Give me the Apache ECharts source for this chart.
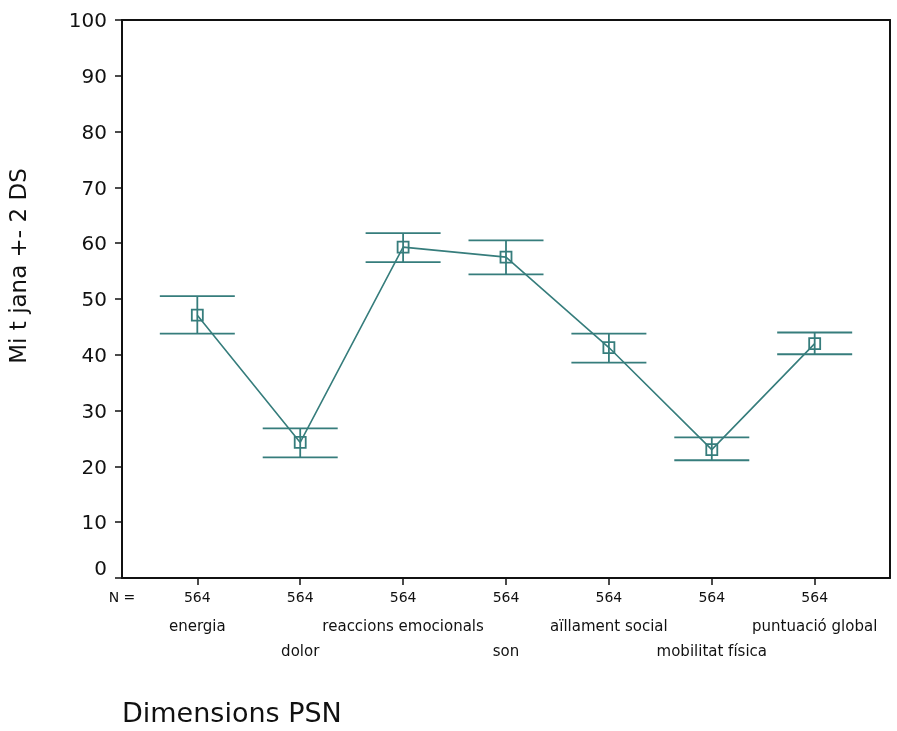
<!DOCTYPE html>
<html>
<head>
<meta charset="utf-8">
<script src="https://cdn.jsdelivr.net/npm/echarts@6/dist/echarts.min.js"></script>
<style>
  html, body { margin: 0; padding: 0; background: #fff; }
  #main { width: 897px; height: 731px; }
</style>
</head>
<body>
<div id="main"></div>
<script>
var categories = ['energia', 'dolor', 'reaccions emocionals', 'son', 'aïllament social', 'mobilitat física', 'puntuació global'];
var counts = [564, 564, 564, 564, 564, 564, 564];
var means = [47.1, 24.3, 59.3, 57.5, 41.3, 23.0, 42.0];
var upper = [50.5, 26.8, 61.8, 60.5, 43.8, 25.2, 44.0];
var lower = [43.8, 21.6, 56.6, 54.4, 38.6, 21.1, 40.1];
var yTicks = [0, 10, 20, 30, 40, 50, 60, 70, 80, 90, 100];

var teal = '#367d7c';
var ink = '#111';
var font = 'DejaVu Sans';

var idx = categories.map(function (c, i) { return i; });
var evenIdx = idx.filter(function (i) { return i % 2 === 0; });
var oddIdx = idx.filter(function (i) { return i % 2 === 1; });
var xMin = -0.732, xMax = 6.732;

var myChart = echarts.init(document.getElementById('main'));

function baseX(extra) {
  var a = {
    type: 'value', min: xMin, max: xMax, position: 'bottom',
    axisLine: { show: false }, axisTick: { show: false },
    axisLabel: { show: false }, splitLine: { show: false }
  };
  for (var k in extra) a[k] = extra[k];
  return a;
}

var option = {
  animation: false,
  grid: { left: 122, right: 7, top: 20, bottom: 153 },
  xAxis: [
    baseX({
      axisLine: { show: true, onZero: false, lineStyle: { color: ink, width: 2 } },
      axisTick: { show: true, customValues: idx, length: 7, lineStyle: { color: ink, width: 1.5 } },
      axisLabel: {
        show: true, customValues: [xMin].concat(idx), margin: 13,
        fontFamily: font, fontSize: 14, color: ink,
        formatter: function (v) { return v < 0 ? 'N =' : String(counts[Math.round(v)]); }
      }
    }),
    baseX({
      axisLabel: {
        show: true, customValues: evenIdx, margin: 42,
        fontFamily: font, fontSize: 15, color: ink,
        formatter: function (v) { return categories[Math.round(v)]; }
      }
    }),
    baseX({
      axisLabel: {
        show: true, customValues: oddIdx, margin: 67,
        fontFamily: font, fontSize: 15, color: ink,
        formatter: function (v) { return categories[Math.round(v)]; }
      }
    }),
    baseX({
      position: 'top',
      axisLine: { show: true, onZero: false, lineStyle: { color: ink, width: 2 } }
    })
  ],
  yAxis: [
    {
      type: 'value', min: 0, max: 100, interval: 10,
      axisLine: { show: true, onZero: false, lineStyle: { color: ink, width: 2 } },
      axisTick: { show: true, length: 7, lineStyle: { color: ink, width: 1.5 } },
      axisLabel: {
        margin: 15, fontFamily: font, fontSize: 20, color: ink,
        padding: [4, 0, 0, 0],
        formatter: function (v) {
          if (yTicks.indexOf(v) < 0) return '';
          return v === 0 ? '{z|0}' : String(v);
        },
        rich: { z: { fontFamily: font, fontSize: 20, color: ink, padding: [0, 0, 20, 0] } }
      },
      splitLine: { show: false }
    },
    {
      type: 'value', min: 0, max: 100, position: 'right',
      axisLine: { show: true, onZero: false, lineStyle: { color: ink, width: 2 } },
      axisTick: { show: false }, axisLabel: { show: false }, splitLine: { show: false }
    }
  ],
  graphic: [
    {
      type: 'text', x: 20, y: 266, rotation: Math.PI / 2,
      style: {
        text: 'Mi t jana +- 2 DS', fontFamily: font, fontSize: 23, fill: ink,
        align: 'center', verticalAlign: 'middle'
      }
    },
    {
      type: 'text', x: 122, y: 715,
      style: {
        text: 'Dimensions PSN', fontFamily: font, fontSize: 27, fill: ink,
        align: 'left', verticalAlign: 'middle'
      }
    }
  ],
  series: [
    {
      type: 'custom',
      xAxisIndex: 0, yAxisIndex: 0,
      encode: { x: 0, y: [1, 2] },
      data: idx.map(function (i) { return [i, upper[i], lower[i]]; }),
      renderItem: function (params, api) {
        var hi = api.coord([api.value(0), api.value(1)]);
        var lo = api.coord([api.value(0), api.value(2)]);
        var half = 37.5;
        var style = { stroke: teal, lineWidth: 1.8, fill: null };
        return {
          type: 'group',
          children: [
            { type: 'line', shape: { x1: hi[0], y1: hi[1], x2: lo[0], y2: lo[1] }, style: style },
            { type: 'line', shape: { x1: hi[0] - half, y1: hi[1], x2: hi[0] + half, y2: hi[1] }, style: style },
            { type: 'line', shape: { x1: lo[0] - half, y1: lo[1], x2: lo[0] + half, y2: lo[1] }, style: style }
          ]
        };
      }
    },
    {
      type: 'line',
      xAxisIndex: 0, yAxisIndex: 0,
      data: idx.map(function (i) { return [i, means[i]]; }),
      symbol: 'rect', symbolSize: 11,
      lineStyle: { color: teal, width: 1.6 },
      itemStyle: { color: 'rgba(0,0,0,0)', borderColor: teal, borderWidth: 1.8 },
      z: 3
    }
  ]
};

myChart.setOption(option);
</script>
</body>
</html>
